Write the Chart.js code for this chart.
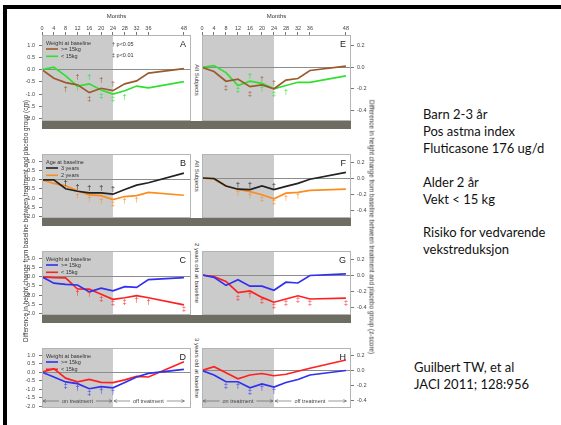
<!DOCTYPE html>
<html><head><meta charset="utf-8">
<script src="https://cdn.jsdelivr.net/npm/chart.js@4.4.0/dist/chart.umd.min.js"></script>
<style>
body{margin:0;width:561px;height:425px;position:relative;overflow:hidden;background:#fff;font-family:"Liberation Sans",Arial,sans-serif}
.abs{position:absolute}
canvas{position:absolute}
.rot{position:absolute;white-space:nowrap;transform:translate(-50%,-50%) rotate(90deg);color:#333}
.rotl{position:absolute;white-space:nowrap;transform:translate(-50%,-50%) rotate(-90deg);color:#333}
.txt{position:absolute;font-family:Lato,"Open Sans",sans-serif;font-size:13px;line-height:17px;color:#111;white-space:nowrap}
.band{position:absolute;background:#6d6d61;z-index:5}
</style></head><body>
<div class="abs" style="left:3px;top:5px;width:558px;height:4px;background:#000;z-index:9"></div>
<div class="abs" style="left:3px;top:5px;width:4px;height:420px;background:#000;z-index:9"></div>
<div id="root"></div>
<script>
// ---------- data ----------
const months = [0,4,8,12,16,20,24,28,32,36,48];
const monthTicks = [0,4,8,12,16,20,24,28,32,36,48];
const cmTicks = [1.0,0.5,0.0,-0.5,-1.0,-1.5,-2.0];
const zTicks = [0.2,0.0,-0.2,-0.4];

const weightLabels = [">= 15kg", "< 15kg"];
const ageLabels = ["3 years", "2 years"];

// Panel A (cm) - all subjects by weight
const aHeavy = [0,-0.35,-0.53,-0.62,-0.94,-0.76,-0.86,-0.58,-0.46,-0.14,0.04];
const aLight = [0,0.10,-0.25,-0.67,-0.58,-0.83,-1.00,-0.86,-0.67,-0.74,-0.49];
// Panel B (cm) - all subjects by age
const bOld   = [0,0,-0.49,-0.63,-0.72,-0.72,-0.79,-0.53,-0.29,-0.16,0.37];
const bYoung = [0,-0.20,-0.33,-0.60,-0.83,-0.87,-1.09,-0.92,-0.87,-0.69,-0.85];
// Panel C (cm) - 2 years old by weight
const cHeavy = [0,-0.35,-0.42,-0.45,-0.83,-0.62,-0.77,-0.54,-0.58,-0.15,-0.04];
const cLight = [0,-0.04,-0.06,-0.67,-0.68,-0.96,-1.24,-1.15,-1.03,-1.15,-1.54];
// Panel D (cm) - 3 years old by weight
const dHeavy = [0,-0.28,-0.57,-0.67,-0.97,-0.85,-0.92,-0.60,-0.28,-0.07,0.17];
const dLight = [0,0.21,-0.35,-0.56,-0.42,-0.60,-0.61,-0.45,-0.25,-0.28,0.61];
// Panel E (z) - all subjects by weight
const eHeavy = [0,-0.04,-0.13,-0.11,-0.18,-0.165,-0.20,-0.12,-0.105,-0.03,0.01];
const eLight = [0,0.015,-0.05,-0.17,-0.13,-0.15,-0.20,-0.17,-0.14,-0.14,-0.08];
// Panel F (z) - all subjects by age
const fOld   = [0,-0.006,-0.10,-0.14,-0.145,-0.10,-0.145,-0.105,-0.067,-0.015,0.07];
const fYoung = [0,-0.015,-0.10,-0.14,-0.17,-0.21,-0.26,-0.19,-0.18,-0.155,-0.14];
// Panel G (z) - 2 years old by weight
const gHeavy = [0,-0.03,-0.13,-0.06,-0.14,-0.14,-0.19,-0.09,-0.10,-0.006,0.015];
const gLight = [0,-0.02,-0.08,-0.22,-0.20,-0.28,-0.34,-0.30,-0.26,-0.30,-0.29];
// Panel H (z) - 3 years old by weight
const hHeavy = [0,-0.06,-0.15,-0.15,-0.23,-0.18,-0.22,-0.16,-0.12,-0.06,0];
const hLight = [0,0.05,-0.03,-0.11,-0.06,-0.04,-0.07,-0.05,-0.01,0.03,0.14];

// significance markers: [month, value, symbol]
const aHeavySig = [[8,-0.80,'†'],[12,-0.30,'†'],[16,-1.22,'‡'],[20,-0.44,'†'],[24,-0.58,'†']];
const aLightSig = [[12,-0.76,'†'],[16,-0.30,'†'],[20,-1.08,'‡'],[24,-1.22,'‡'],[28,-1.14,'†']];
const bOldSig   = [[8,-0.20,'†'],[12,-0.39,'†'],[16,-0.45,'†'],[20,-0.45,'†'],[24,-0.52,'†']];
const bYoungSig = [[12,-0.87,'†'],[16,-1.07,'†'],[20,-1.16,'†'],[24,-1.36,'‡'],[28,-1.16,'†'],[32,-1.12,'†']];
const cLightSig = [[12,-0.87,'†'],[16,-0.94,'†'],[20,-1.24,'‡'],[24,-1.47,'‡'],[28,-1.41,'‡'],[32,-1.28,'†'],[36,-1.41,'†'],[48,-1.79,'‡']];
const dHeavySig = [[8,-0.80,'‡'],[12,-0.92,'†'],[16,-1.22,'‡'],[20,-1.08,'†'],[24,-1.15,'†']];
const eHeavySig = [[8,-0.19,'‡'],[16,-0.245,'‡'],[20,-0.11,'†'],[24,-0.15,'†']];
const eLightSig = [[12,-0.21,'‡'],[16,-0.08,'†'],[20,-0.205,'†'],[24,-0.25,'‡'],[28,-0.23,'†']];
const fOldSig   = [[12,-0.088,'†'],[16,-0.09,'†'],[24,-0.097,'†']];
const fYoungSig = [[12,-0.19,'†'],[16,-0.22,'†'],[20,-0.26,'‡'],[24,-0.30,'‡'],[28,-0.25,'†'],[32,-0.23,'†']];
const gLightSig = [[12,-0.285,'‡'],[16,-0.25,'†'],[20,-0.33,'‡'],[24,-0.385,'‡'],[28,-0.355,'‡'],[32,-0.31,'‡'],[36,-0.355,'‡'],[48,-0.355,'‡']];
const hHeavySig = [[8,-0.206,'‡'],[12,-0.206,'†'],[16,-0.286,'‡'],[20,-0.24,'†'],[24,-0.276,'†']];

// ---------- styles ----------
const C = {brown:'#9a5b2c', green:'#2fe02f', black:'#222222', orange:'#fb8d1e', blue:'#3030f0', red:'#ff2020'};
const FONT = '"Liberation Sans", Arial, sans-serif';
const SHADE = '#cbcbcb';

const decoPlugin = {
  id: 'deco',
  beforeDraw(chart, args, o) {
    const {ctx, chartArea: a, scales: {x}} = chart;
    ctx.save();
    ctx.fillStyle = SHADE;
    const x0 = x.getPixelForValue(0), x1 = x.getPixelForValue(24);
    ctx.fillRect(x0, a.top, x1 - x0, a.bottom - a.top);
    ctx.restore();
  },
  afterDatasetsDraw(chart, args, o) {
    const {ctx, chartArea: a, scales: {x, y}} = chart;
    ctx.save();
    ctx.textAlign = 'center'; ctx.textBaseline = 'middle';
    ctx.font = '7px ' + FONT;
    (o.sig || []).forEach((list, di) => {
      if (!list) return;
      ctx.fillStyle = chart.data.datasets[di].borderColor;
      list.forEach(([m, v, s]) => ctx.fillText(s, x.getPixelForValue(m), y.getPixelForValue(v)));
    });
    ctx.restore();
  },
  afterDraw(chart, args, o) {
    const {ctx, chartArea: a, scales: {x}} = chart;
    ctx.save();
    ctx.strokeStyle = '#b4b4b4'; ctx.lineWidth = 1;
    ctx.strokeRect(a.left + 0.5, a.top + 0.5, a.right - a.left - 1, a.bottom - a.top - 1);
    ctx.fillStyle = '#222'; ctx.font = '9px ' + FONT; ctx.textAlign = 'right'; ctx.textBaseline = 'middle';
    ctx.fillText(o.letter, a.right - 5, a.top + 10);
    if (o.legendTitle) {
      ctx.textAlign = 'left';
      ctx.font = '5.5px ' + FONT; ctx.fillStyle = '#333';
      ctx.fillText(o.legendTitle, a.left + 4, a.top + 8);
      chart.data.datasets.forEach((d, i) => {
        const yy = a.top + 14 + i * 7.3;
        ctx.strokeStyle = d.borderColor; ctx.lineWidth = 1.6;
        ctx.beginPath(); ctx.moveTo(a.left + 4, yy); ctx.lineTo(a.left + 16, yy); ctx.stroke();
        ctx.fillStyle = '#333';
        ctx.fillText(d.label, a.left + 19, yy);
      });
    }
    if (o.pLegend) {
      ctx.textAlign = 'left'; ctx.font = '5.5px ' + FONT; ctx.fillStyle = '#333';
      ctx.fillText(o.pLegend[0], a.left + 70, a.top + 9);
      ctx.fillText(o.pLegend[1], a.left + 70, a.top + 20);
    }
    if (o.treatment) {
      const yy = a.bottom - 7;
      ctx.strokeStyle = '#555'; ctx.fillStyle = '#444'; ctx.lineWidth = 0.6;
      ctx.font = '5.5px ' + FONT; ctx.textAlign = 'center'; ctx.textBaseline = 'middle';
      const seg = (m0, m1, mc, label) => {
        const p0 = x.getPixelForValue(m0) + 1, p1 = x.getPixelForValue(m1) - 1, pc = x.getPixelForValue(mc);
        const tw = ctx.measureText(label).width / 2 + 3;
        ctx.beginPath();
        ctx.moveTo(p0, yy); ctx.lineTo(pc - tw, yy);
        ctx.moveTo(pc + tw, yy); ctx.lineTo(p1, yy);
        ctx.moveTo(p0 + 3, yy - 1.5); ctx.lineTo(p0, yy); ctx.lineTo(p0 + 3, yy + 1.5);
        ctx.moveTo(p1 - 3, yy - 1.5); ctx.lineTo(p1, yy); ctx.lineTo(p1 - 3, yy + 1.5);
        ctx.stroke();
        ctx.fillText(label, pc, yy);
      };
      seg(0, 24, 12, 'on treatment');
      seg(24, 48.5, 36, 'off treatment');
    }
    ctx.restore();
  }
};

function makePanel(spec) {
  const cv = document.createElement('canvas');
  const w = spec.cw, h = spec.ch;
  cv.width = w; cv.height = h;
  cv.style.left = spec.cl + 'px'; cv.style.top = spec.ct + 'px';
  cv.style.width = w + 'px'; cv.style.height = h + 'px';
  document.getElementById('root').appendChild(cv);
  const isLeft = spec.side === 'left';
  new Chart(cv, {
    type: 'line',
    data: {
      datasets: spec.series.map(s => ({
        label: s.label, data: months.map((m, i) => ({x: m, y: s.values[i]})),
        borderColor: s.color, backgroundColor: s.color, borderWidth: 1.7,
        pointRadius: 0, tension: 0, fill: false
      }))
    },
    options: {
      responsive: false, animation: false, devicePixelRatio: 1,
      layout: {autoPadding: false, padding: spec.pad},
      plugins: {
        legend: {display: false}, tooltip: {enabled: false},
        deco: {letter: spec.letter, sig: spec.sig, legendTitle: spec.legendTitle,
               pLegend: spec.pLegend, treatment: spec.treatment}
      },
      scales: {
        x: {
          type: 'linear', min: 0, max: spec.xMax, position: 'top', display: !!spec.topAxis,
          afterBuildTicks: ax => { ax.ticks = monthTicks.map(v => ({value: v})); },
          ticks: {font: {size: 5.5, family: FONT}, color: '#444', padding: 0, maxRotation: 0, autoSkip: false},
          grid: {drawOnChartArea: false, tickLength: 3, color: '#777'},
          border: {display: false},
          title: {display: true, text: 'Months', font: {size: 6, family: FONT}, color: '#333', padding: {top: 3, bottom: 3}},
          afterFit: ax => { ax.height = 25; ax.paddingLeft = 0; ax.paddingRight = 0; }
        },
        y: {
          type: 'linear', min: spec.yMin, max: spec.yMax, position: spec.side,
          afterBuildTicks: ax => { ax.ticks = spec.ticks.map(v => ({value: v})); },
          ticks: {font: {size: 5.5, family: FONT}, color: '#444', padding: isLeft ? 4 : 3,
                  callback: v => (Math.abs(v) < 1e-9 ? 0 : v).toFixed(1)},
          grid: {
            color: c => (c.tick && Math.abs(c.tick.value) < 1e-9) ? '#8c8c8c' : 'rgba(0,0,0,0)',
            tickColor: '#777', tickLength: 3, lineWidth: 1
          },
          border: {display: false},
          afterFit: ax => { ax.width = spec.yW; ax.paddingTop = 0; ax.paddingBottom = 0; }
        }
      }
    },
    plugins: [decoPlugin]
  });
}

const CM = {min: -2.1, max: 1.42};
const Z = {min: -0.5, max: 0.3};
const rows = [
  {t: 35, b: 121}, {t: 129, b: 218}, {t: 226, b: 315}, {t: 323, b: 408}
];
function leftSpec(r, top, extra) {
  const ct = top ? 10 : r.t - 4;
  return Object.assign({side: 'left', cl: 8, cw: 185, ct, ch: r.b + 4 - ct,
    pad: {left: 0, right: 2, top: top ? 0 : 4, bottom: 4}, yW: 34, xMax: 50.4,
    yMin: CM.min, yMax: CM.max, ticks: cmTicks, topAxis: top}, extra);
}
function rightSpec(r, top, extra) {
  const ct = top ? 10 : r.t - 4;
  return Object.assign({side: 'right', cl: 200, cw: 173, ct, ch: r.b + 4 - ct,
    pad: {left: 2, right: 0, top: top ? 0 : 4, bottom: 4}, yW: 22, xMax: 49.7,
    yMin: Z.min, yMax: Z.max, ticks: zTicks, topAxis: top}, extra);
}

makePanel(leftSpec(rows[0], true, {letter: 'A', legendTitle: 'Weight at baseline', pLegend: ['† p<0.05', '‡ p<0.01'],
  series: [{label: weightLabels[0], values: aHeavy, color: C.brown}, {label: weightLabels[1], values: aLight, color: C.green}],
  sig: [aHeavySig, aLightSig]}));
makePanel(leftSpec(rows[1], false, {letter: 'B', legendTitle: 'Age at baseline',
  series: [{label: ageLabels[0], values: bOld, color: C.black}, {label: ageLabels[1], values: bYoung, color: C.orange}],
  sig: [bOldSig, bYoungSig]}));
makePanel(leftSpec(rows[2], false, {letter: 'C', legendTitle: 'Weight at baseline',
  series: [{label: weightLabels[0], values: cHeavy, color: C.blue}, {label: weightLabels[1], values: cLight, color: C.red}],
  sig: [null, cLightSig]}));
makePanel(leftSpec(rows[3], false, {letter: 'D', legendTitle: 'Weight at baseline', treatment: true,
  series: [{label: weightLabels[0], values: dHeavy, color: C.blue}, {label: weightLabels[1], values: dLight, color: C.red}],
  sig: [dHeavySig, null]}));

makePanel(rightSpec(rows[0], true, {letter: 'E',
  series: [{label: weightLabels[0], values: eHeavy, color: C.brown}, {label: weightLabels[1], values: eLight, color: C.green}],
  sig: [eHeavySig, eLightSig]}));
makePanel(rightSpec(rows[1], false, {letter: 'F',
  series: [{label: ageLabels[0], values: fOld, color: C.black}, {label: ageLabels[1], values: fYoung, color: C.orange}],
  sig: [fOldSig, fYoungSig]}));
makePanel(rightSpec(rows[2], false, {letter: 'G',
  series: [{label: weightLabels[0], values: gHeavy, color: C.blue}, {label: weightLabels[1], values: gLight, color: C.red}],
  sig: [null, gLightSig]}));
makePanel(rightSpec(rows[3], false, {letter: 'H', treatment: true,
  series: [{label: weightLabels[0], values: hHeavy, color: C.blue}, {label: weightLabels[1], values: hLight, color: C.red}],
  sig: [hHeavySig, null]}));

const root = document.getElementById('root');
[[121,129],[218,226],[315,323]].forEach(([t,b]) => {
  const d = document.createElement('div'); d.className = 'band';
  d.style.left = '42px'; d.style.width = '309px'; d.style.top = t + 'px'; d.style.height = (b - t) + 'px';
  root.appendChild(d);
});
const sideLabels = ['All Subjects', 'All Subjects', '2 years old at baseline', '3 years old at baseline'];
sideLabels.forEach((s, i) => {
  const d = document.createElement('div'); d.className = 'rot';
  d.style.left = '196.5px'; d.style.top = ((rows[i].t + rows[i].b) / 2 + 2) + 'px';
  d.style.font = '6px ' + FONT; d.textContent = s; root.appendChild(d);
});
const lt = document.createElement('div'); lt.className = 'rotl';
lt.style.left = '25px'; lt.style.top = '221px'; lt.style.font = '6.4px ' + FONT;
lt.textContent = 'Difference in height change from baseline between treatment and placebo group (cm)';
root.appendChild(lt);
const rt = document.createElement('div'); rt.className = 'rot';
rt.style.left = '372px'; rt.style.top = '227px'; rt.style.font = '6.4px ' + FONT;
rt.textContent = 'Difference in height change from baseline between treatment and placebo group (z-score)';
root.appendChild(rt);
</script>
<div class="txt" style="left:423px;top:106px">Barn 2-3 år<br>Pos astma index<br>Fluticasone 176 ug/d</div>
<div class="txt" style="left:423px;top:174px">Alder 2 år<br>Vekt &lt; 15 kg</div>
<div class="txt" style="left:423px;top:224px">Risiko for vedvarende<br>vekstreduksjon</div>
<div class="txt" style="left:414px;top:359px">Guilbert TW, et al<br>JACI 2011; 128:956</div>
</body></html>
